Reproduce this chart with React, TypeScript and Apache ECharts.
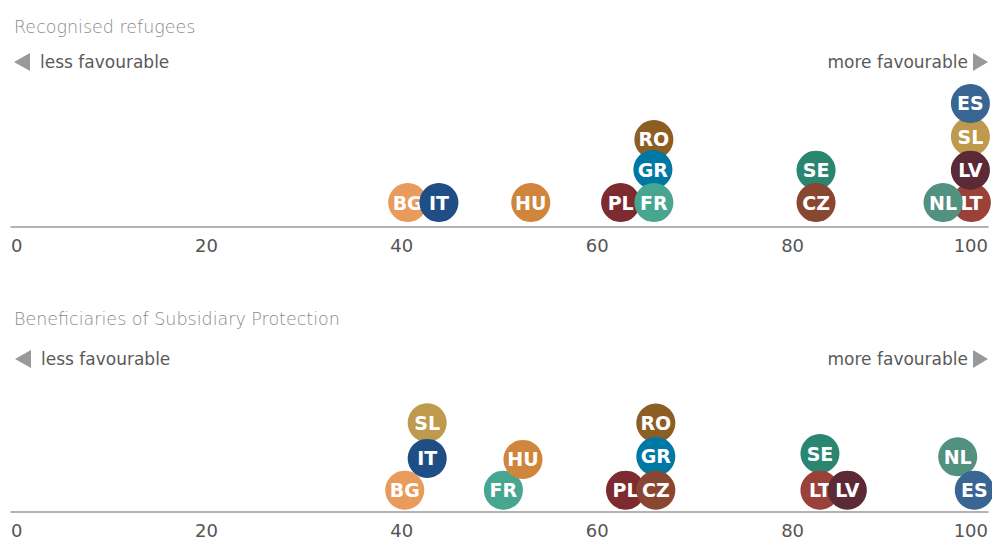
import React, { useEffect, useRef } from "react";
import * as echarts from "echarts";

const countries = ["RO", "SL", "SE", "PL", "LT", "LV", "NL", "ES", "GR", "FR", "BG", "IT", "CZ", "HU"];
const countryColors = ["#8C5E24", "#C09A4C", "#2A8571", "#7E2B2F", "#9A423A", "#5C2A36", "#52907F", "#386592", "#0078A4", "#46A68F", "#E89B5B", "#1F4E87", "#894631", "#D0853D"];

// Recognised refugees: score and stack level in the swarm
const refugeeScores = [65.8, 98.2, 82.4, 62.4, 98.3, 98.2, 95.4, 98.2, 65.7, 65.8, 40.6, 43.8, 82.4, 53.2];
const refugeeLevels = [1.91, 2.0, 0.98, 0, 0, 0.98, 0, 3.0, 1.0, 0, 0, 0, 0, 0];

// Beneficiaries of Subsidiary Protection
const subsidiaryScores = [66.0, 42.6, 82.8, 62.9, 82.8, 85.6, 96.9, 98.6, 66.0, 50.4, 40.3, 42.6, 66.0, 52.4];
const subsidiaryLevels = [2.05, 2.06, 1.12, 0, 0, 0, 1.02, 0, 1.03, 0, 0, 0.97, 0, 0.94];

const xTicks = [0, 20, 40, 60, 80, 100];
const panelTitles = ["Recognised refugees", "Beneficiaries of Subsidiary Protection"];
const lessLabel = "less favourable";
const moreLabel = "more favourable";

const FONT = "'DejaVu Sans', sans-serif";

export default function App() {
  const ref = useRef<HTMLDivElement>(null);
  useEffect(() => {
    if (!ref.current) return;
    const chart = echarts.init(ref.current, undefined, { renderer: "svg" });

    const makeSeries = (scores: number[], levels: number[], idx: number) =>
      countries.map((c, i) => ({
        type: "scatter",
        name: c,
        xAxisIndex: idx,
        yAxisIndex: idx,
        z: 2 + i,
        symbol: "circle",
        symbolSize: 39,
        itemStyle: { color: countryColors[i], opacity: 1 },
        label: {
          show: true,
          position: "inside",
          formatter: c,
          color: "#ffffff",
          fontFamily: FONT,
          fontSize: 19,
          fontWeight: "bold",
        },
        emphasis: { disabled: true },
        data: [[scores[i], levels[i]]],
      }));

    const xAxisBase = (gridIndex: number) => ({
      type: "value",
      gridIndex,
      min: xTicks[0],
      max: xTicks[xTicks.length - 1],
      interval: xTicks[1] - xTicks[0],
      axisLine: { show: true, onZero: false, lineStyle: { color: "#9a9a9a", width: 1.5 } },
      axisTick: { show: false },
      splitLine: { show: false },
      axisLabel: {
        color: "#555555",
        fontFamily: FONT,
        fontSize: 18,
        margin: 9,
        alignMinLabel: "left",
        alignMaxLabel: "right",
      },
    });

    const yAxisBase = (gridIndex: number, min: number, max: number) => ({
      type: "value",
      gridIndex,
      min,
      max,
      show: false,
    });

    const titleStyle = { fill: "#8a8a8a", fontFamily: FONT, fontSize: 17.5, fontWeight: 200 };
    const noteStyle = { fill: "#5a5a5a", fontFamily: FONT, fontSize: 17 };

    const annot = (titleY: number, noteY: number, leftShift: number, title: string) => [
      { type: "text", left: 14, top: titleY - 8, style: { text: title, ...titleStyle } },
      {
        type: "polygon",
        shape: { points: [[14 + leftShift, noteY], [30 + leftShift, noteY - 9], [30 + leftShift, noteY + 9]] },
        style: { fill: "#999999" },
      },
      { type: "text", left: 40 + leftShift, top: noteY - 9, style: { text: lessLabel, ...noteStyle } },
      { type: "text", right: 24, top: noteY - 9, style: { text: moreLabel, ...noteStyle } },
      {
        type: "polygon",
        shape: { points: [[973, noteY - 9], [988, noteY], [973, noteY + 9]] },
        style: { fill: "#999999" },
      },
    ];

    chart.setOption({
      animation: false,
      backgroundColor: "#ffffff",
      grid: [
        { left: 11, right: 4, top: 80, height: 147 },
        { left: 11, right: 4, top: 390, height: 123 },
      ],
      xAxis: [xAxisBase(0), xAxisBase(1)],
      yAxis: [yAxisBase(0, -0.742, 3.712), yAxisBase(1, -0.667, 3.06)],
      series: [
        ...makeSeries(refugeeScores, refugeeLevels, 0),
        ...makeSeries(subsidiaryScores, subsidiaryLevels, 1),
      ],
      graphic: [...annot(26, 62, 0, panelTitles[0]), ...annot(318, 359, 1, panelTitles[1])],
    } as any);

    return () => chart.dispose();
  }, []);

  return (
    <div
      ref={ref}
      style={{ position: "absolute", left: 0, top: 0, width: 992, height: 539, background: "#fff" }}
    />
  );
}
